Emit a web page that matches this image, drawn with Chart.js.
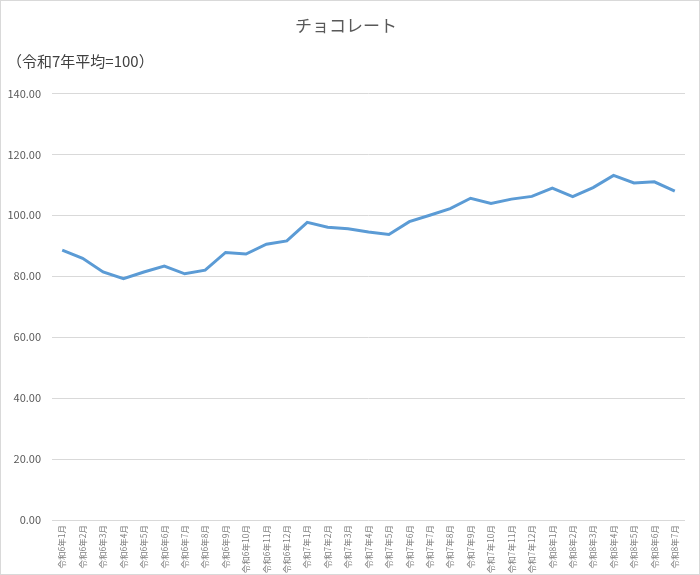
<!DOCTYPE html>
<html lang="ja">
<head>
<meta charset="utf-8">
<script src="https://cdn.jsdelivr.net/npm/chart.js@4/dist/chart.umd.min.js"></script>
<style>
    html, body { margin: 0; padding: 0; background: #ffffff; }
    #frame {
        width: 700px; height: 575px;
        box-sizing: border-box;
        border: 1px solid #d9d9d9;
        position: relative;
    }
</style>
</head>
<body>
<div id="frame"><canvas id="line-chart"></canvas></div>
<script>
// 月のラベル（令和6年1月〜令和8年7月）
const months = [
    "令和6年1月", "令和6年2月", "令和6年3月", "令和6年4月", "令和6年5月", "令和6年6月",
    "令和6年7月", "令和6年8月", "令和6年9月", "令和6年10月", "令和6年11月", "令和6年12月",
    "令和7年1月", "令和7年2月", "令和7年3月", "令和7年4月", "令和7年5月", "令和7年6月",
    "令和7年7月", "令和7年8月", "令和7年9月", "令和7年10月", "令和7年11月", "令和7年12月",
    "令和8年1月", "令和8年2月", "令和8年3月", "令和8年4月", "令和8年5月", "令和8年6月",
    "令和8年7月"
];

// チョコレート指数
const chocolateValues = [
    88.6, 85.9, 81.4, 79.2, 81.4, 83.3, 80.8, 82.0, 87.8, 87.3, 90.5, 91.6,
    97.7, 96.1, 95.6, 94.5, 93.7, 97.9, 100.0, 102.2, 105.6, 103.9, 105.3, 106.2,
    108.9, 106.1, 109.1, 113.1, 110.6, 111.0, 107.9
];

const yTicks = [0, 20, 40, 60, 80, 100, 120, 140];

const jpFont = "'Noto Sans CJK JP', 'Noto Sans', sans-serif";

window.onload = drawChart;

function drawChart() {
    var ctx = document.getElementById("line-chart").getContext("2d");

    var chocolateChart = new Chart(ctx, {
        type: 'line',
        data: {
            labels: months,
            datasets: [{
                label: "チョコレート",
                data: chocolateValues,
                borderColor: "#5b9bd5",
                backgroundColor: "#5b9bd5",
                borderWidth: 3,
                pointRadius: 0,
                tension: 0,
                fill: false
            }]
        },
        options: {
            responsive: true,
            maintainAspectRatio: false,
            animation: false,
            layout: {
                padding: { left: 6, right: 14, top: 0, bottom: 0 }
            },
            plugins: {
                legend: { display: false },
                tooltip: { enabled: false },
                title: {
                    display: true,
                    text: "チョコレート",
                    color: "#595959",
                    font: { family: jpFont, size: 17, weight: 'normal' },
                    padding: { top: 14, bottom: 17 }
                },
                subtitle: {
                    display: true,
                    text: "（令和7年平均=100）",
                    align: 'start',
                    color: "#404040",
                    font: { family: jpFont, size: 15, weight: 'normal' },
                    padding: { top: 0, bottom: 23 }
                }
            },
            scales: {
                x: {
                    offset: true,
                    grid: { display: false, drawTicks: false },
                    border: { display: false },
                    afterFit: function (axis) { axis.height = 54; },
                    ticks: {
                        autoSkip: false,
                        maxRotation: 90,
                        minRotation: 90,
                        padding: 5,
                        color: "#7f7f7f",
                        font: { family: jpFont, size: 8.5 }
                    }
                },
                y: {
                    min: 0,
                    max: 140,
                    afterBuildTicks: function (axis) {
                        axis.ticks = yTicks.map(function (v) { return { value: v }; });
                    },
                    afterFit: function (axis) { axis.width = 45; },
                    grid: { color: "#d9d9d9", lineWidth: 1, drawTicks: false },
                    border: { display: false },
                    ticks: {
                        padding: 11,
                        color: "#595959",
                        font: { family: jpFont, size: 11 },
                        callback: function (value) { return Number(value).toFixed(2); }
                    }
                }
            }
        }
    });
}
</script>
</body>
</html>
